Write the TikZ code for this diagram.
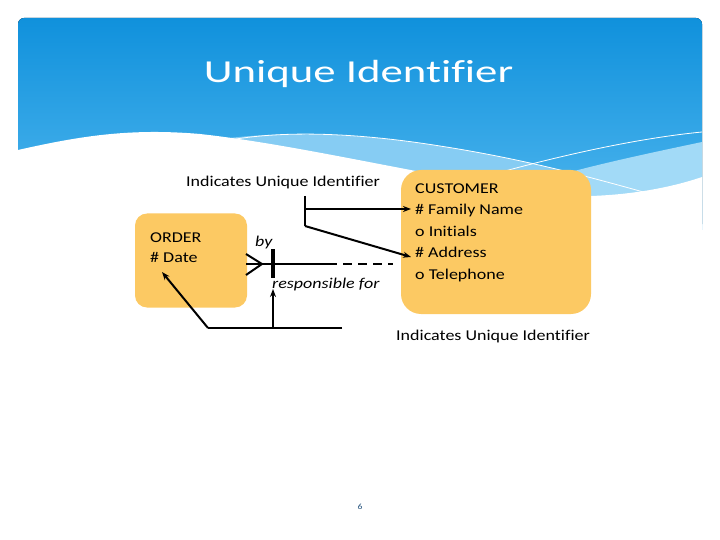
\documentclass[tikz,border=0pt]{standalone}
\usepackage{fontspec}
\setmainfont{Carlito}[FakeStretch=1.2, Ligatures=NoCommon]
\newfontfamily\titlefont{Carlito}[FakeStretch=1.4, Ligatures=NoCommon]
\usetikzlibrary{arrows.meta}
\definecolor{hdtop}{HTML}{1091DC}
\definecolor{hdbot}{HTML}{52B8EF}
\definecolor{bandA}{HTML}{86CCF3}
\definecolor{bandB}{HTML}{A2DAF7}
\definecolor{boxfill}{HTML}{FCC963}
\definecolor{pgnum}{HTML}{1F4E79}
\tikzset{
  entbox/.style={draw=none, fill=boxfill, rounded corners=#1, inner sep=0pt},
  lbl/.style={inner sep=0pt, anchor=base west, font=\fontsize{15}{18}\selectfont},
  ent/.style={inner sep=0pt, anchor=north west, align=left, font=\fontsize{15}{21.5}\selectfont},
  rel/.style={inner sep=0pt, anchor=base west, font=\itshape\fontsize{15}{18}\selectfont},
  conn/.style={line width=2pt, black},
  arr/.style={conn, -{Stealth[length=8pt,width=6pt]}},
}
\begin{document}
\begin{tikzpicture}[x=1pt,y=-1pt]
\useasboundingbox (0,0) rectangle (720,540);
% header
\fill[rounded corners=6pt, top color=hdtop, bottom color=hdbot] (18,230) |- (702,18) -- (702,230) -- cycle;
\fill[bandA] (200,142) .. controls (260,132) and (340,130) .. (440,146) .. controls (530,160) and (600,180) .. (650,195) -- (702,200) -- (702,230) -- (200,230) -- cycle;
\fill[bandB] (480,205) .. controls (530,180) and (583,167) .. (702,142) -- (702,230) -- (480,230) -- cycle;
\fill[white] (18,150) .. controls (80,136) and (130,128) .. (200,134) .. controls (300,145) and (420,175) .. (560,196) .. controls (620,198) and (670,188) .. (702,177) -- (702,232) -- (18,232) -- cycle;
\draw[white, line width=0.8pt] (225,141) .. controls (270,132) and (340,130) .. (440,146) .. controls (530,160) and (600,180) .. (647,193);
\draw[white, line width=0.8pt] (480,178) .. controls (560,155) and (640,138) .. (702,132);
\node[inner sep=0pt, anchor=base, text=white, font=\titlefont\fontsize{32}{38}\selectfont] (title) at (358.5,83) {Unique Identifier};
% entities
\node[entbox=12pt, minimum width=112pt, minimum height=94pt] (order) at (191,260.5) {};
\node[ent, font=\fontsize{15}{20}\selectfont] (ordertxt) at (150,232.3) {ORDER\\\# Date};
\node[entbox=20pt, minimum width=190pt, minimum height=144pt] (cust) at (496,242) {};
\node[ent] (custtxt) at (415,183.3) {CUSTOMER\\\# Family Name\\o Initials\\\# Address\\o Telephone};
% labels
\node[lbl] (uid1) at (186,187) {Indicates Unique Identifier};
\node[lbl] (uid2) at (396,340) {Indicates Unique Identifier};
\node[rel] (by) at (255,246) {by};
\node[rel] (resp) at (272,288) {responsible for};
\node[inner sep=0pt, text=pgnum, font=\fontsize{8}{9}\selectfont] (pg) at (360,507) {6};
% coordinates
\coordinate (v1top) at (305,196);
\coordinate (v1bot) at (305,226);
\coordinate (v1mid) at (305,209);
\coordinate (famtip) at (411,209);
\coordinate (addrtip) at (411,257);
\coordinate (cfA) at (246,254);
\coordinate (cfB) at (246,275);
\coordinate (cfM) at (262,264);
\coordinate (relL) at (246,264);
\coordinate (relS) at (328,264);
\coordinate (relE) at (393,264);
\coordinate (barT) at (273,249);
\coordinate (barB) at (273,278);
\coordinate (bR) at (342,328);
\coordinate (bL) at (208,328);
\coordinate (bV) at (273,328);
\coordinate (dateTip) at (162,272);
\coordinate (respTip) at (273,289);
% UID arrows top
\draw[conn] (v1top) -- (v1bot);
\draw[arr] (v1mid) -- (famtip);
\draw[arr] (v1bot) -- (addrtip);
% relationship
\draw[conn] (cfA) -- (cfM) -- (cfB);
\draw[conn] (relL) -- (relS);
\draw[conn, dash pattern=on 9pt off 6pt] (relS) -- (relE);
\draw[line width=3.5pt] (barT) -- (barB);
% bottom UID
\draw[conn] (bR) -- (bL);
\draw[arr] (bL) -- (dateTip);
\draw[arr] (bV) -- (respTip);
\end{tikzpicture}
\end{document}
